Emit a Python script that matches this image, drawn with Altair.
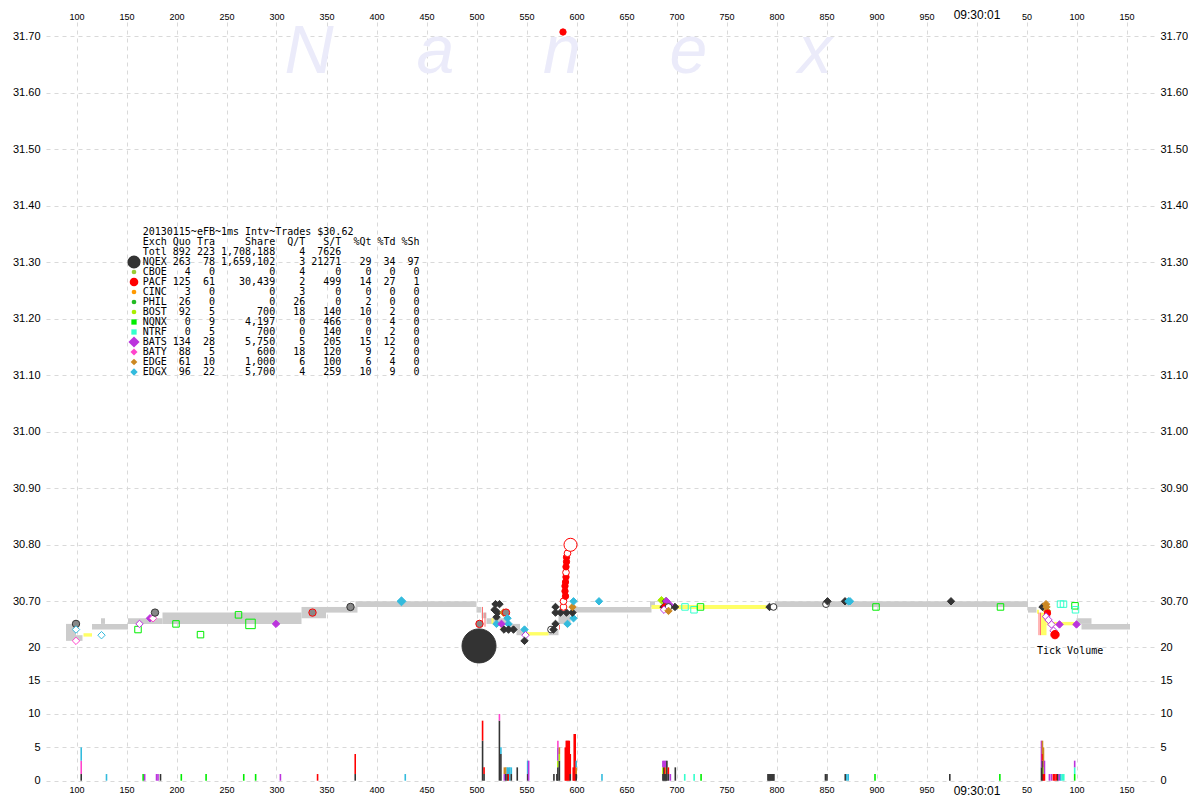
import altair as alt
import pandas as pd

# ---------------- stats table ----------------
table_title = "20130115~eFB~1ms Intv~Trades $30.62"
table_head = ["Exch", "Quo", "Tra", "Share", "Q/T", "S/T", "%Qt", "%Td", "%Sh"]
total_vals = ["Totl", 892, 223, 1708188, 4, 7626, "", "", ""]
exch_names = ["NQEX", "CBOE", "PACF", "CINC", "PHIL", "BOST", "NQNX", "NTRF", "BATS", "BATY", "EDGE", "EDGX"]
quotes = [263, 4, 125, 3, 26, 92, 0, 0, 134, 88, 61, 96]
trades = [78, 0, 61, 0, 0, 5, 9, 5, 28, 5, 10, 22]
shares = [1659102, 0, 30439, 0, 0, 700, 4197, 700, 5750, 600, 1000, 5700]
q_per_t = [3, 4, 2, 3, 26, 18, 0, 0, 5, 18, 6, 4]
s_per_t = [21271, 0, 499, 0, 0, 140, 466, 140, 205, 120, 100, 259]
pct_q = [29, 0, 14, 0, 2, 10, 0, 0, 15, 9, 6, 10]
pct_t = [34, 0, 27, 0, 0, 2, 4, 2, 12, 2, 4, 9]
pct_s = [97, 0, 1, 0, 0, 0, 0, 0, 0, 0, 0, 0]

# ---------------- axes ----------------
time_ticks = [100, 150, 200, 250, 300, 350, 400, 450, 500, 550, 600, 650, 700, 750,
              800, 850, 900, 950, 1000, 1050, 1100, 1150]
price_ticks = [30.70, 30.80, 30.90, 31.00, 31.10, 31.20, 31.30, 31.40, 31.50, 31.60, 31.70]
volume_ticks = [0, 5, 10, 15, 20]

# ---------------- NBBO (gray) bands: ms, price ----------------
nbbo_t0 = [89.5, 99.5, 115.5, 124.5, 151.5, 186, 325, 349.5, 379, 500, 505, 510, 531.5, 540,
           572, 582, 593.5, 673.5, 798.5, 1051.5, 1100, 1105]
nbbo_t1 = [99.5, 106, 151.5, 128.5, 186, 325, 349.5, 381, 500, 505, 510, 532, 543.5, 547,
           582, 594, 675, 678.5, 1051.5, 1060, 1115, 1153.5]
nbbo_lo = [30.63, 30.63, 30.65, 30.66, 30.66, 30.66, 30.67, 30.68, 30.69, 30.68, 30.67, 30.66, 30.65, 30.64,
           30.64, 30.66, 30.68, 30.69, 30.69, 30.68, 30.66, 30.65]
nbbo_hi = [30.66, 30.64, 30.66, 30.67, 30.67, 30.68, 30.69, 30.69, 30.70, 30.69, 30.68, 30.67, 30.66, 30.65,
           30.65, 30.68, 30.69, 30.70, 30.70, 30.69, 30.67, 30.66]

# ---------------- locked (yellow) segments ----------------
lock_t0 = [107, 515, 524, 550, 675, 1060.5, 1064.5, 1070]
lock_t1 = [115.5, 517, 526, 572, 790, 1062.5, 1070, 1101.5]
lock_lo = [30.6375, 30.66, 30.65, 30.6395, 30.6865, 30.678, 30.64, 30.6575]
lock_hi = [30.6435, 30.67, 30.66, 30.6455, 30.6935, 30.685, 30.68, 30.6635]

# ---------------- quote lines ----------------
qline_t = [506, 508.5, 583, 1062.5, 1064]
qline_lo = [30.663, 30.655, 30.65, 30.64, 30.64]
qline_hi = [30.69, 30.68, 30.658, 30.68, 30.68]

# ---------------- trades / quotes points ----------------
pts = [
    (99.5, 30.66, "NQEX", "g"), (99.5, 30.65, "EDGX", "h"), (99.5, 30.63, "BATY", "h"),
    (125, 30.64, "EDGX", "h"), (161.5, 30.65, "NQNX", "s"), (163, 30.66, "BATS", "h"),
    (173.5, 30.67, "BATS", "d"), (176.5, 30.67, "BATY", "h"), (178.5, 30.68, "NQEX", "g"),
    (199.5, 30.66, "NQNX", "s"), (224, 30.641, "NQNX", "s"), (262, 30.676, "NQNX", "s"),
    (274, 30.66, "NQNX", "S"), (299.5, 30.66, "BATS", "d"), (336, 30.68, "PACF", "g"),
    (374, 30.69, "NQEX", "g"), (425, 30.70, "EDGX", "D"),
    (502.5, 30.621, "NQEX", "B"), (503, 30.66, "PACF", "g"),
    (519, 30.695, "NQEX", "d"), (523, 30.695, "NQEX", "d"), (518, 30.685, "NQEX", "d"),
    (521, 30.68, "NQEX", "d"), (520, 30.672, "NQEX", "d"), (527, 30.68, "EDGE", "d"),
    (529.5, 30.68, "PACF", "g"), (520, 30.66, "EDGX", "d"), (531, 30.67, "EDGX", "d"),
    (532, 30.66, "EDGX", "d"), (525, 30.66, "BATS", "d"), (527.5, 30.65, "NQEX", "d"),
    (532, 30.65, "NQEX", "d"), (537, 30.65, "NQEX", "d"), (548, 30.65, "EDGX", "d"),
    (549, 30.64, "BATS", "h"), (548, 30.63, "NQEX", "d"), (574.5, 30.65, "NQEX", "w"),
    (577, 30.65, "NQEX", "d"), (579, 30.66, "NQEX", "d"), (591, 30.66, "EDGX", "d"),
    (597, 30.67, "EDGX", "d"), (579, 30.68, "NQEX", "d"), (584, 30.68, "NQEX", "d"),
    (590, 30.68, "NQEX", "d"), (596, 30.68, "NQEX", "d"), (579, 30.69, "NQEX", "d"),
    (596, 30.69, "EDGE", "d"), (597, 30.70, "EDGX", "d"), (622.5, 30.70, "EDGX", "d"),
    (587, 30.69, "PACF", "w"), (587, 30.70, "PACF", "w"), (589, 30.709, "PACF", "c"),
    (588.5, 30.718, "PACF", "c"), (588.5, 30.727, "PACF", "c"), (589, 30.734, "PACF", "c"),
    (589.5, 30.743, "PACF", "c"), (589.5, 30.751, "PACF", "w"), (589.5, 30.761, "PACF", "c"),
    (590, 30.770, "PACF", "c"), (590, 30.778, "PACF", "c"), (591, 30.785, "PACF", "w"),
    (594, 30.800, "PACF", "W"), (586.5, 31.7076, "PACF", "c"),
    (685, 30.702, "BOST", "d"), (689.5, 30.70, "NQEX", "d"), (687, 30.69, "NQEX", "d"),
    (698.5, 30.69, "NQEX", "d"), (690, 30.70, "BATS", "d"), (693, 30.694, "BATS", "d"),
    (688.5, 30.69, "PACF", "c"), (692, 30.69, "NQEX", "w"), (687.5, 30.685, "BATS", "h"),
    (692, 30.683, "EDGE", "d"), (708.5, 30.69, "NTRF", "s"), (717.5, 30.685, "NTRF", "s"),
    (724, 30.69, "NQNX", "s"), (793, 30.69, "NQEX", "d"), (797, 30.69, "NQEX", "w"),
    (849.5, 30.695, "NQEX", "w"), (851, 30.70, "NQEX", "d"), (868.5, 30.70, "NQEX", "d"),
    (872, 30.70, "EDGX", "d"), (873.5, 30.70, "EDGX", "d"), (899.5, 30.69, "NQNX", "s"),
    (974.5, 30.70, "NQEX", "d"), (1024, 30.69, "NQNX", "s"), (1066, 30.69, "NQEX", "d"),
    (1069.5, 30.695, "EDGE", "d"), (1070, 30.69, "EDGE", "d"), (1070.5, 30.683, "EDGE", "d"),
    (1071, 30.679, "PACF", "c"), (1069.5, 30.673, "BATS", "h"), (1072, 30.667, "BATS", "h"),
    (1075, 30.659, "BATS", "h"), (1077, 30.648, "BATS", "h"), (1083, 30.659, "BATS", "d"),
    (1100, 30.659, "BATS", "d"), (1078.5, 30.641, "PACF", "C"), (1084, 30.695, "NTRF", "s"),
    (1087, 30.695, "NTRF", "s"), (1098.5, 30.692, "NQNX", "s"), (1099, 30.685, "NTRF", "s"),
]
trade_t = [p[0] for p in pts]
trade_p = [p[1] for p in pts]
trade_ex = [p[2] for p in pts]
trade_kind = [p[3] for p in pts]

# ---------------- tick volume (count per ms, stacked by exchange) ----------------
vols = [
    (100, "NQEX", 1), (100, "BATY", 2), (100, "EDGX", 2), (125.5, "EDGX", 1),
    (162.5, "NQNX", 1), (164, "BATS", 1), (176, "BATS", 1), (177.5, "BATS", 1), (180, "NQEX", 1),
    (201, "NQNX", 1), (226, "NQNX", 1), (264, "NQNX", 1), (276, "NQNX", 1), (301, "BATS", 1),
    (338.5, "PACF", 1), (376.5, "NQEX", 1), (376.5, "PACF", 3), (427, "EDGX", 1),
    (505, "NQEX", 6), (505, "PACF", 3), (506.5, "NQEX", 1), (506.5, "PACF", 1),
    (522, "NQEX", 9), (522, "BATY", 1), (523.5, "NQEX", 4), (523.5, "EDGX", 1),
    (527, "BATS", 1), (527, "EDGE", 1), (528.5, "NQEX", 1), (528.5, "EDGE", 1),
    (530, "NQEX", 1), (530, "EDGX", 1), (531, "PACF", 1), (531, "EDGX", 1), (532.5, "EDGX", 2),
    (534, "NQEX", 1), (534, "EDGX", 1), (540, "NQEX", 2),
    (550.5, "NQEX", 1), (550.5, "EDGX", 2), (551.5, "BATS", 3), (577, "NQEX", 1), (580, "NQEX", 1),
    (581, "NQEX", 2), (581, "BOST", 1), (581, "BATS", 2), (581, "BATY", 1),
    (582.5, "NQEX", 3), (582.5, "BOST", 1), (582.5, "EDGE", 1),
    (588.5, "PACF", 5), (589.5, "PACF", 6), (590.5, "PACF", 6), (591.5, "PACF", 6), (592.5, "PACF", 6),
    (593.5, "NQEX", 1), (593.5, "PACF", 3), (596.5, "PACF", 2), (597.5, "PACF", 7), (598.5, "PACF", 7),
    (599.5, "NQEX", 1), (599.5, "EDGE", 1), (599.5, "EDGX", 1), (625.5, "EDGX", 1),
    (687, "NQEX", 1), (687, "BOST", 1), (687, "BATS", 1), (688, "NQEX", 2), (688, "BATS", 1),
    (689, "NQEX", 1), (689, "PACF", 1), (689, "BATS", 1), (690, "NQEX", 1), (690, "EDGE", 1),
    (690, "BATS", 1), (691, "NQEX", 3), (692.5, "NQEX", 1), (692.5, "PACF", 1), (694.5, "BATS", 1),
    (699.5, "NQEX", 2), (709, "NTRF", 1), (718.5, "NTRF", 1), (725.5, "NQNX", 1),
    (793, "NQEX", 1), (794, "NQEX", 1), (795, "NQEX", 1), (796, "NQEX", 1), (797, "NQEX", 1),
    (798, "NQEX", 1), (799, "NQEX", 1), (851, "NQEX", 1), (852.5, "NQEX", 1),
    (871, "NQEX", 1), (872.5, "EDGX", 1), (874, "EDGX", 1), (901, "NQNX", 1), (976.5, "NQEX", 1),
    (1027, "NQNX", 1), (1069, "NQEX", 2), (1069, "BATS", 4),
    (1070, "NQEX", 3), (1070, "PACF", 1), (1070, "EDGE", 2),
    (1071, "PACF", 1), (1071, "BOST", 1), (1071, "EDGE", 3), (1072, "PACF", 1), (1072, "BATS", 2),
    (1077, "BATS", 1), (1079, "BATS", 1), (1081, "PACF", 1), (1082.5, "PACF", 1), (1084, "PACF", 1),
    (1085.5, "NQEX", 1), (1087, "BATS", 1), (1088.5, "EDGX", 1), (1090, "NTRF", 1), (1091.5, "NTRF", 1),
    (1102.5, "NQNX", 1), (1102.5, "NTRF", 1), (1102.5, "BATS", 1),
]
vol_t = [v[0] for v in vols]
vol_ex = [v[1] for v in vols]
vol_n = [v[2] for v in vols]

watermark_letters = ["N", "a", "n", "e", "x"]

# ---------------- styles ----------------
EX_COLOR = {"NQEX": "#333333", "CBOE": "#99cc33", "PACF": "#ff0000", "CINC": "#ff9900",
            "PHIL": "#22bb22", "BOST": "#aaee00", "NQNX": "#00ee00", "NTRF": "#33ffcc",
            "BATS": "#bb33dd", "BATY": "#ff44cc", "EDGE": "#cc8822", "EDGX": "#33bbdd"}
KIND = {"d": ("diamond", 55, None), "D": ("diamond", 80, None), "h": ("diamond", 55, "white"),
        "g": ("circle", 55, "#888888"), "s": ("square", 42, "transparent"),
        "S": ("square", 90, "transparent"), "c": ("circle", 40, None), "C": ("circle", 70, None),
        "w": ("circle", 45, "white"), "W": ("circle", 170, "white"), "B": ("circle", 1156, None)}
LEG_SYM = {"NQEX": ("circle", 170), "CBOE": ("circle", 22), "PACF": ("circle", 75),
           "CINC": ("circle", 22), "PHIL": ("circle", 22), "BOST": ("circle", 22),
           "NQNX": ("square", 28), "NTRF": ("square", 28), "BATS": ("diamond", 125),
           "BATY": ("diamond", 50), "EDGE": ("diamond", 45), "EDGX": ("diamond", 55)}

FONT = "Liberation Sans"
MONO = "DejaVu Sans Mono"
GRID = "#d9d9d9"

# plot-area geometry: 1 ms per px; 0.01 $ = 5.65 px; 1 tick = 6.67 px
W, H = 1108, 760
XS = alt.Scale(domain=[69.5, 1177.5], nice=False, zero=False)
PS = alt.Scale(domain=[30.38018, 31.72531], nice=False, zero=False)
VS = alt.Scale(domain=[-0.195, 113.748], nice=False, zero=False)

# ---------------- dataframes ----------------
nbbo_df = pd.DataFrame({"t0": nbbo_t0, "t1": nbbo_t1, "lo": nbbo_lo, "hi": nbbo_hi})
lock_df = pd.DataFrame({"t0": lock_t0, "t1": lock_t1, "lo": lock_lo, "hi": lock_hi})
qline_df = pd.DataFrame({"t": qline_t, "lo": qline_lo, "hi": qline_hi})

pt_df = pd.DataFrame({"t": trade_t, "p": trade_p, "ex": trade_ex, "kind": trade_kind})
pt_df["shape"] = [KIND[k][0] for k in trade_kind]
pt_df["size"] = [KIND[k][1] for k in trade_kind]
pt_df["stroke"] = [EX_COLOR[e] for e in trade_ex]
pt_df["fill"] = [KIND[k][2] or EX_COLOR[e] for k, e in zip(trade_kind, trade_ex)]

cum = {}
y0, y1 = [], []
for t, n in zip(vol_t, vol_n):
    b = cum.get(t, 0)
    y0.append(b)
    y1.append(b + n)
    cum[t] = b + n
vol_df = pd.DataFrame({"t": vol_t, "ex": vol_ex, "y0": y0, "y1": y1,
                       "color": [EX_COLOR[e] for e in vol_ex]})


def fmt_row(c):
    def s(v):
        return f"{v:,}" if isinstance(v, int) else v
    line = (f"{c[0]:<4} {s(c[1]):>3} {s(c[2]):>3} {s(c[3]):>9} {s(c[4]):>4} "
            f"{c[5]!s:>5} {s(c[6]):>4} {s(c[7]):>3} {s(c[8]):>3}")
    return line.rstrip().replace(" ", "\u00a0")


rows = [table_title.replace(" ", "\u00a0"), fmt_row(table_head), fmt_row(total_vals)]
for i, e in enumerate(exch_names):
    rows.append(fmt_row([e, quotes[i], trades[i], shares[i], q_per_t[i], s_per_t[i],
                         pct_q[i], pct_t[i], pct_s[i]]))
leg_df = pd.DataFrame({"txt": rows, "row": list(range(len(rows)))})
sym_df = pd.DataFrame({"ex": exch_names, "row": list(range(3, 3 + len(exch_names)))})
sym_df["shape"] = [LEG_SYM[e][0] for e in exch_names]
sym_df["size"] = [LEG_SYM[e][1] for e in exch_names]
sym_df["color"] = [EX_COLOR[e] for e in exch_names]

wm_df = pd.DataFrame({"letter": watermark_letters, "i": list(range(len(watermark_letters)))})

# ---------------- axes ----------------
x_label_expr = ("datum.value == 1000 ? '09:30:01' : (datum.value > 1000 ? "
                "format(datum.value - 1000, 'd') : format(datum.value, 'd'))")
x_font_size = {"condition": {"test": "datum.value == 1000", "value": 12}, "value": 9}
common = dict(domain=False, ticks=False, tickSize=0, title=None, labelColor="#000000",
              labelFont=FONT, gridColor=GRID, gridDash=[4, 4], gridWidth=1,
              labelOverlap=False, labelFlush=False)
x_bottom = alt.Axis(orient="bottom", values=time_ticks, labelExpr=x_label_expr, grid=True,
                    labelFontSize=x_font_size, labelPadding=3, labelBaseline="top", **common)
x_top = alt.Axis(orient="top", values=time_ticks, labelExpr=x_label_expr, grid=False,
                 labelFontSize=x_font_size, labelPadding=1, minExtent=10, maxExtent=10, **common)
p_left = alt.Axis(orient="left", values=price_ticks, format=".2f", grid=True, labelFontSize=11,
                  labelPadding=6, minExtent=38, maxExtent=38, **common)
p_right = alt.Axis(orient="right", values=price_ticks, format=".2f", grid=False, labelFontSize=11,
                   labelPadding=6, minExtent=34, maxExtent=34, **common)
v_left = alt.Axis(orient="left", values=volume_ticks, format="d", grid=True, labelFontSize=11,
                  labelPadding=6, minExtent=38, maxExtent=38, **common)
v_right = alt.Axis(orient="right", values=volume_ticks, format="d", grid=False, labelFontSize=11,
                   labelPadding=6, minExtent=34, maxExtent=34, **common)

# ---------------- layers ----------------
watermark = alt.Chart(wm_df).mark_text(
    font=FONT, fontStyle="italic", fontSize=68, color="#ebebfa", baseline="alphabetic", align="center"
).encode(
    x=alt.X("i:Q", scale=alt.Scale(domain=[0, 4], range=[263, 769]), axis=None),
    y=alt.value(51),
    text="letter:N",
)

gray = alt.Chart(nbbo_df).mark_rect(color="#cccccc").encode(
    x=alt.X("t0:Q", scale=XS, axis=x_bottom), x2="t1:Q",
    y=alt.Y("lo:Q", scale=PS, axis=p_left), y2="hi:Q",
)
yellow = alt.Chart(lock_df).mark_rect(color="#ffff66").encode(
    x=alt.X("t0:Q", scale=XS, axis=None), x2="t1:Q",
    y=alt.Y("lo:Q", scale=PS, axis=None), y2="hi:Q",
)
qlines = alt.Chart(qline_df).mark_rule(color="#ff6f6f", strokeWidth=1).encode(
    x=alt.X("t:Q", scale=XS, axis=None),
    y=alt.Y("lo:Q", scale=PS, axis=None), y2="hi:Q",
)
points = alt.Chart(pt_df).mark_point(strokeWidth=1, opacity=1, fillOpacity=1).encode(
    x=alt.X("t:Q", scale=XS, axis=None),
    y=alt.Y("p:Q", scale=PS, axis=None),
    shape=alt.Shape("shape:N", scale=None),
    size=alt.Size("size:Q", scale=None),
    fill=alt.Fill("fill:N", scale=None),
    stroke=alt.Stroke("stroke:N", scale=None),
)

price_dummy = alt.Chart(pd.DataFrame({"t": [time_ticks[0]], "p": [price_ticks[0]]})).mark_point(
    opacity=0).encode(
    x=alt.X("t:Q", scale=XS, axis=x_top),
    y=alt.Y("p:Q", scale=PS, axis=p_right),
)

bars = alt.Chart(vol_df).mark_bar(width=1.6).encode(
    x=alt.X("t:Q", scale=XS, axis=None),
    y=alt.Y("y0:Q", scale=VS, axis=v_left), y2="y1:Q",
    color=alt.Color("color:N", scale=None),
)
vol_dummy = alt.Chart(pd.DataFrame({"t": [time_ticks[0]], "v": [volume_ticks[0]]})).mark_point(
    opacity=0).encode(
    x=alt.X("t:Q", scale=XS, axis=None),
    y=alt.Y("v:Q", scale=VS, axis=v_right),
)

row_scale = alt.Scale(domain=[0, 1], range=[210, 220])
leg_text = alt.Chart(leg_df).mark_text(
    font=MONO, fontSize=10, align="left", baseline="middle", color="#000000"
).encode(
    x=alt.value(96.7),
    y=alt.Y("row:Q", scale=row_scale, axis=None),
    text="txt:N",
)
leg_sym = alt.Chart(sym_df).mark_point(filled=True, opacity=1).encode(
    x=alt.value(88),
    y=alt.Y("row:Q", scale=row_scale, axis=None),
    shape=alt.Shape("shape:N", scale=None),
    size=alt.Size("size:Q", scale=None),
    color=alt.Color("color:N", scale=None),
)
tick_label = alt.Chart(pd.DataFrame({"txt": ["Tick Volume"]})).mark_text(
    font=MONO, fontSize=10, align="left", baseline="middle", color="#000000"
).encode(x=alt.value(991), y=alt.value(629), text="txt:N")

chart = alt.layer(
    watermark, gray, yellow, qlines, points, price_dummy, bars, vol_dummy,
    leg_text, leg_sym, tick_label
).resolve_scale(
    x="independent", y="independent"
).properties(
    width=W, height=H, padding=0, background="white"
).configure_view(stroke=None)

chart.save("out.html", embed_options={"renderer": "svg", "actions": False})
